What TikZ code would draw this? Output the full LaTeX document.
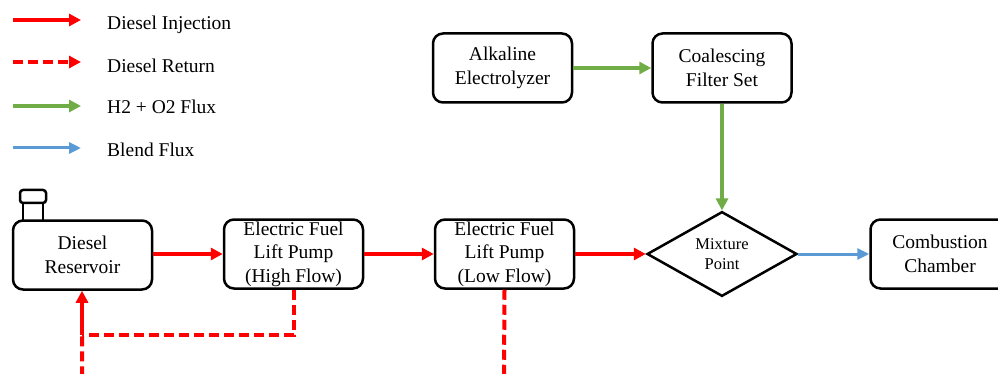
\documentclass[tikz,border=0pt]{standalone}
\usepackage{fontspec}
\setmainfont{Liberation Serif}
\usepackage{tikz}
\usetikzlibrary{arrows.meta, shapes.geometric, positioning, calc}
\definecolor{fuelred}{HTML}{FF0000}
\definecolor{gasgreen}{HTML}{70AD47}
\definecolor{blendblue}{HTML}{5B9BD5}

\begin{document}
\begin{tikzpicture}
  [x=1pt,y=-1pt,
   every node/.style={font=\fontsize{19.5}{23.5}\selectfont},
   box/.style={draw, line width=2.5pt, rounded corners=10pt, fill=white,
     minimum width=139pt, minimum height=69pt, inner sep=0pt, align=center},
   inj/.style={fuelred, line width=4pt, -{Triangle[length=12pt,width=12pt]}},
   retn/.style={fuelred, line width=4pt, dash pattern=on 10pt off 5pt},
   gas/.style={gasgreen, line width=3.5pt, -{Triangle[length=12pt,width=12pt]}},
   blend/.style={blendblue, line width=3pt, -{Triangle[length=12pt,width=11pt]}}]
  \useasboundingbox (0,0) rectangle (998,374);

  % legend
  \coordinate (la1) at (13,20);  \coordinate (lb1) at (81,20);
  \coordinate (la2) at (13,62);  \coordinate (lb2) at (81,62);
  \coordinate (la3) at (13,106); \coordinate (lb3) at (81,106);
  \coordinate (la4) at (13,148); \coordinate (lb4) at (81,148);
  \draw[inj] (la1) -- (lb1);
  \draw[retn, -{Triangle[length=12pt,width=12pt]}] (la2) -- (lb2);
  \draw[gas] (la3) -- (lb3);
  \draw[blend] (la4) -- (lb4);
  \node[anchor=base west, inner sep=0pt] (lt1) at (107,30)  {Diesel Injection};
  \node[anchor=base west, inner sep=0pt] (lt2) at (107,73)  {Diesel Return};
  \node[anchor=base west, inner sep=0pt] (lt3) at (107,114) {H2 + O2 Flux};
  \node[anchor=base west, inner sep=0pt] (lt4) at (107,157) {Blend Flux};

  % tank cap
  \draw[line width=2.5pt] (23,203) rectangle (43,221);
  \draw[line width=2.5pt, rounded corners=3pt, fill=white] (20,190) rectangle (46,203);

  % blocks
  \node[box] (res)  at (82.5,255)  {Diesel\\Reservoir};
  \node[box] (hp)   at (293.5,254) {Electric Fuel\\Lift Pump\\(High Flow)};
  \node[box] (lp)   at (504.5,254) {Electric Fuel\\Lift Pump\\(Low Flow)};
  \node[draw, diamond, line width=2.5pt, minimum width=150pt, minimum height=69pt,
    inner sep=0pt, align=center, font=\fontsize{16.5}{20.5}\selectfont]
    (mix) at (722,254) {Mixture\\Point};
  \node[box] (comb) at (940,254) {Combustion\\Chamber};
  \node[box] (alk)  at (502.5,68) {Alkaline\\Electrolyzer};
  \node[box] (coal) at (722,68)   {Coalescing\\Filter Set};

  % flows
  \draw[inj] (res.east |- hp) -- (hp);
  \draw[inj] (hp) -- (lp);
  \draw[inj] (lp) -- (mix);
  \draw[blend] (mix) -- (comb);
  \draw[gas] (alk) -- (coal);
  \draw[gas] (coal) -- (mix);

  % return lines
  \coordinate (ret) at (82,335);
  \coordinate (low) at (504,377);
  \draw[retn] (hp.south) |- (ret);
  \draw[retn] (lp.south) -- (low) -| (ret);
  \draw[inj] (ret) -- (ret |- res.south);
\end{tikzpicture}
\end{document}
